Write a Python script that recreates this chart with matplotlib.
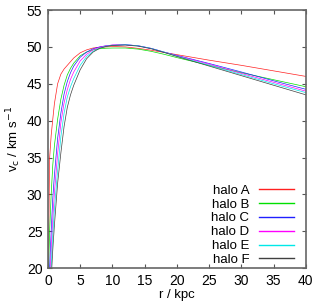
import matplotlib
matplotlib.use('Agg')
import matplotlib.pyplot as plt

plt.rcParams['font.family'] = ['Liberation Sans', 'DejaVu Sans']

# radius grid (kpc)
r = [0, 0.25, 0.5, 0.75, 1, 1.5, 2, 2.5, 3, 3.5, 4, 5, 6, 7, 8, 9, 10,
     12, 14, 16, 18, 20, 25, 30, 35, 40]

# circular velocities (km/s)
halo_a = [14, 34.8, 38.0, 40.2, 42.3, 45.0, 46.3, 47.0, 47.5, 48.0, 48.5, 49.2, 49.6,
          49.85, 49.95, 50.0, 50.05, 50.0, 49.8, 49.55, 49.25, 48.95, 48.2, 47.5, 46.75, 46.0]
halo_b = [17, 24.8, 30.0, 34.0, 36.6, 40.2, 42.9, 44.8, 46.2, 47.1, 47.8, 48.8, 49.3,
          49.6, 49.75, 49.82, 49.85, 49.85, 49.7, 49.4, 49.0, 48.55, 47.5, 46.5, 45.55, 44.6]
halo_c = [12, 20, 25, 29.5, 32.6, 37.6, 41.0, 43.6, 45.3, 46.5, 47.4, 48.6, 49.3,
          49.75, 50.0, 50.15, 50.25, 50.3, 50.15, 49.8, 49.3, 48.85, 47.75, 46.6, 45.4, 44.25]
halo_d = [8, 17, 22.5, 26.7, 30.2, 35.5, 39.7, 42.4, 44.2, 45.6, 46.6, 48.1, 49.0,
          49.6, 49.95, 50.15, 50.25, 50.3, 50.15, 49.8, 49.3, 48.8, 47.65, 46.4, 45.2, 44.0]
halo_e = [5, 14, 20.3, 24.5, 28.0, 33.2, 37.8, 41.0, 43.2, 44.6, 45.7, 47.5, 48.7,
          49.4, 49.85, 50.1, 50.2, 50.3, 50.15, 49.8, 49.3, 48.75, 47.5, 46.25, 45.0, 43.8]
halo_f = [2, 11, 18.5, 22.5, 25.8, 31.5, 35.6, 39.2, 41.8, 43.5, 44.8, 46.9, 48.4,
          49.3, 49.8, 50.05, 50.2, 50.25, 50.1, 49.75, 49.25, 48.7, 47.4, 46.1, 44.8, 43.5]

labels = ['halo A', 'halo B', 'halo C', 'halo D', 'halo E', 'halo F']
colors = ['#ff2020', '#00e000', '#2020ff', '#ff00ff', '#00e8e8', '#404040']
series = [halo_a, halo_b, halo_c, halo_d, halo_e, halo_f]

fig = plt.figure(figsize=(3.24, 3.04), dpi=100)
ax = fig.add_axes([0.148, 0.118, 0.796, 0.849])

for v, lab, col in zip(series, labels, colors):
    ax.plot(r, v, color=col, lw=0.5, label=lab)

ax.set_xlim(0, 40)
ax.set_ylim(20, 55)
ax.set_xticks(range(0, 41, 5))
ax.set_yticks(range(20, 56, 5))
ax.tick_params(direction='in', top=True, right=True, labelsize=10,
               length=3, width=0.8, color='#555555', pad=4)
for s in ax.spines.values():
    s.set_color('#666666')
    s.set_linewidth(1.2)

ax.set_xlabel('r / kpc', fontsize=9.5, labelpad=1)
ax.set_ylabel(r'v$_{\rm c}$ / km s$^{-1}$', fontsize=9.5, labelpad=3)

leg = ax.legend(loc='lower right', frameon=False, markerfirst=False, fontsize=9.5,
                handlelength=2.7, handletextpad=0.7, labelspacing=0.12,
                borderaxespad=0.0, bbox_to_anchor=(0.975, -0.012))
for line in leg.get_lines():
    line.set_linewidth(1.0)

fig.savefig('out.png', dpi=100)
